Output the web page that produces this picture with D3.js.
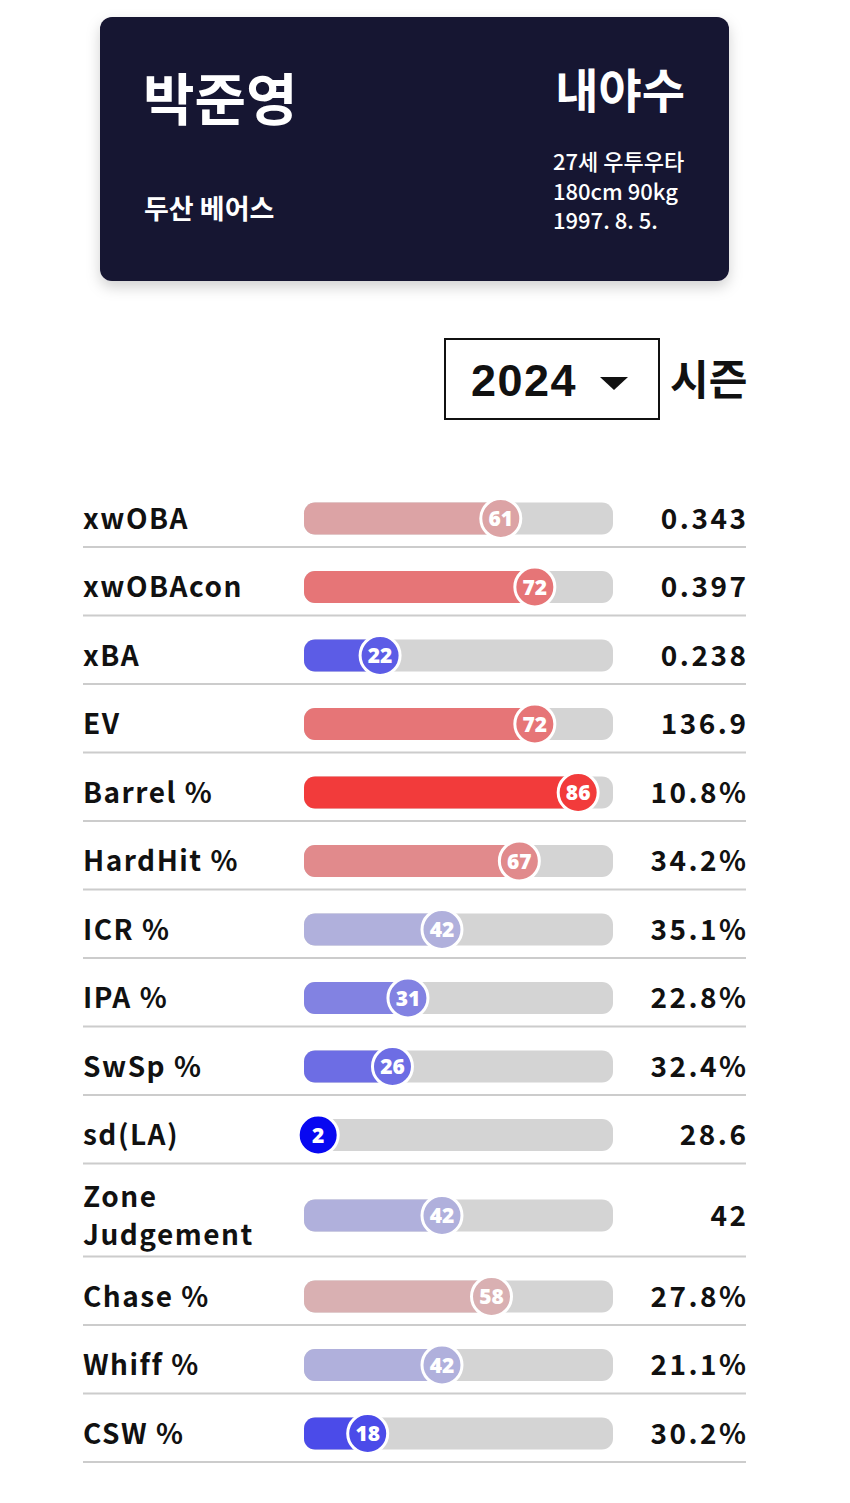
<!DOCTYPE html>
<html><head><meta charset="utf-8">
<script src="https://cdn.jsdelivr.net/npm/d3@7"></script>
<style>
html,body{margin:0;padding:0;background:#fff;}
svg{display:block;}
</style></head>
<body>
<script>
const playerName = "박준영";
const position = "내야수";
const team = "두산 베어스";
const infoLines = ["27세 우투우타", "180cm 90kg", "1997. 8. 5."];
const season = "2024";
const seasonLabel = "시즌";

const metrics = ["xwOBA", "xwOBAcon", "xBA", "EV", "Barrel %", "HardHit %", "ICR %", "IPA %", "SwSp %", "sd(LA)", "Zone\nJudgement", "Chase %", "Whiff %", "CSW %"];
const percentiles = [61, 72, 22, 72, 86, 67, 42, 31, 26, 2, 42, 58, 42, 18];
const valueLabels = ["0.343", "0.397", "0.238", "136.9", "10.8%", "34.2%", "35.1%", "22.8%", "32.4%", "28.6", "42", "27.8%", "21.1%", "30.2%"];

(function(){
const W = 850, H = 1503;
const svg = d3.select("body").append("svg").attr("width", W).attr("height", H);
const defs = svg.append("defs");
const f = defs.append("filter").attr("id","sh").attr("x","-10%").attr("y","-10%").attr("width","120%").attr("height","130%");
f.append("feDropShadow").attr("dx",0).attr("dy",6).attr("stdDeviation",7).attr("flood-color","#000").attr("flood-opacity",0.18);

const KR = "'Noto Sans CJK KR', 'Noto Sans', sans-serif";

// Header card
const card = svg.append("g");
card.append("rect").attr("x",100).attr("y",17).attr("width",629).attr("height",264).attr("rx",12)
  .attr("fill","#141330").attr("filter","url(#sh)");
card.append("text").attr("x",143).attr("y",120).text(playerName)
  .attr("font-family",KR).attr("font-weight",700).attr("font-size",56).attr("fill","#fff");
card.append("text").attr("x",685).attr("y",108).attr("text-anchor","end").text(position)
  .attr("font-family",KR).attr("font-weight",700).attr("font-size",47).attr("fill","#fff");
card.append("text").attr("x",144).attr("y",219).text(team)
  .attr("font-family",KR).attr("font-weight",700).attr("font-size",27).attr("fill","#fff");
card.selectAll("text.info").data(infoLines).join("text").attr("class","info")
  .attr("x",553).attr("y",(d,i)=>170+i*29.5).text(d=>d)
  .attr("font-family",KR).attr("font-weight",500).attr("font-size",22).attr("fill","#fff");

// Season selector
const sel = svg.append("g");
sel.append("rect").attr("x",445).attr("y",339).attr("width",214).attr("height",80)
  .attr("fill","#fff").attr("stroke","#111").attr("stroke-width",2);
sel.append("text").attr("x",471).attr("y",396).text(season)
  .attr("font-family","'Liberation Sans', Arial, sans-serif").attr("font-weight",700).attr("font-size",45)
  .attr("letter-spacing",1.5).attr("fill","#111");
sel.append("path").attr("d","M600,377 L628,377 L614,390 Z").attr("fill","#111");
sel.append("text").attr("x",670).attr("y",395).text(seasonLabel)
  .attr("font-family",KR).attr("font-weight",700).attr("font-size",42).attr("fill","#111");

// Rows
const rowData = metrics.map((m,i)=>({label:m, lines:m.split("\n"), p:percentiles[i], v:valueLabels[i]}));
const baseH = 68.5, lineExtra = 24.5;
let yTop = 478.5;
rowData.forEach(d=>{
  d.h = baseH + (d.lines.length-1)*lineExtra;
  d.top = yTop;
  d.cy = yTop + 40 + (d.lines.length-1)*12;
  d.bottom = yTop + d.h;
  yTop += d.h;
});

const x = d3.scaleLinear().domain([0,100]).range([312, 621.5]);
const color = d3.scaleLinear().domain([0,42,58,100])
  .range(["rgb(0,0,242)","rgb(176,176,220)","rgb(217,176,178)","rgb(255,0,0)"]);

const trackX0 = 304, trackX1 = 613, trackH = 32;

const rows = svg.selectAll("g.row").data(rowData).join("g").attr("class","row");

rows.append("line").attr("x1",83).attr("x2",746)
  .attr("y1",d=>d.bottom).attr("y2",d=>d.bottom)
  .attr("stroke","#cccccc").attr("stroke-width",2);

rows.append("text")
  .attr("font-family",KR).attr("font-weight",700).attr("font-size",28).attr("letter-spacing",1.5).attr("fill","#111")
  .each(function(d){
    const t = d3.select(this);
    const n = d.lines.length;
    d.lines.forEach((ln,k)=>{
      t.append("tspan").attr("x",83)
        .attr("y", d.cy + 10 + (k-(n-1)/2)*38)
        .text(ln.replace(" %", "  %"));
    });
  });

rows.append("rect").attr("x",trackX0).attr("width",trackX1-trackX0)
  .attr("y",d=>d.cy-trackH/2).attr("height",trackH).attr("rx",11)
  .attr("fill","#d4d4d4");

rows.append("rect").attr("x",trackX0)
  .attr("width",d=>Math.max(0, x(d.p)-trackX0))
  .attr("y",d=>d.cy-trackH/2).attr("height",trackH).attr("rx",11)
  .attr("fill",d=>color(d.p));

rows.append("circle").attr("cx",d=>x(d.p)).attr("cy",d=>d.cy).attr("r",20)
  .attr("fill",d=>color(d.p)).attr("stroke","#fff").attr("stroke-width",3);

rows.append("text").attr("x",d=>x(d.p)).attr("y",d=>d.cy+7.5)
  .attr("text-anchor","middle").text(d=>d.p)
  .attr("font-family","'Open Sans', 'Noto Sans', sans-serif").attr("font-weight",800).attr("font-size",21).attr("fill","#fff");

rows.append("text").attr("x",748.5).attr("y",d=>d.cy+10)
  .attr("text-anchor","end").text(d=>d.v)
  .attr("font-family",KR).attr("font-weight",700).attr("font-size",28).attr("letter-spacing",2.5).attr("fill","#111");
})();
</script>
</body></html>
